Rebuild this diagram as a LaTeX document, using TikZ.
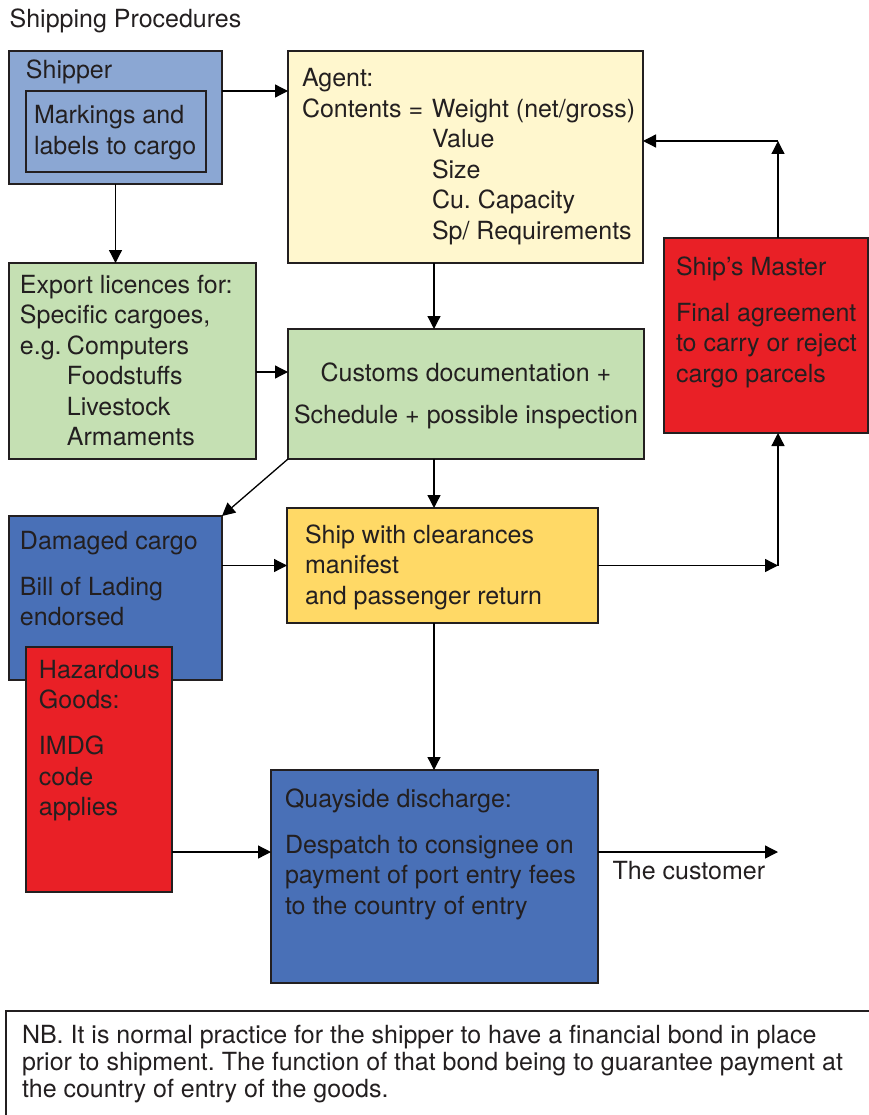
\documentclass[tikz,border=0pt]{standalone}
\usepackage{fontspec}
\setmainfont{TeX Gyre Heros}
\usetikzlibrary{arrows.meta}
\frenchspacing
\definecolor{fill_pale}{RGB}{139,167,211}
\definecolor{fill_cream}{RGB}{255,247,206}
\definecolor{fill_green}{RGB}{197,224,179}
\definecolor{fill_red}{RGB}{233,32,38}
\definecolor{fill_blue}{RGB}{73,112,183}
\definecolor{fill_yell}{RGB}{255,217,102}
\definecolor{edge_dark}{RGB}{35,31,32}
% #1 width, #2 height, #3 left pad, #4 first baseline, #5 lines
\newcommand\panel[5]{\begin{minipage}[t][#2pt][t]{#1pt}\raggedright\leftskip=#3pt\rule{0pt}{#4pt}#5\end{minipage}}

\begin{document}
\begin{tikzpicture}[x=1pt,y=-1pt,->,line width=1.3pt,>={Triangle[length=13pt,width=13pt]},
    font=\fontsize{25}{30.5}\selectfont,text=edge_dark]
    \tikzstyle{label}=[anchor=base west,inner sep=0pt]
    \tikzstyle{box}=[-,draw=edge_dark,line width=2pt,anchor=north west,inner sep=0pt,outer sep=0pt]
    \tikzstyle{boxpale}=[style=box,fill=fill_pale]
    \tikzstyle{boxcream}=[style=box,fill=fill_cream]
    \tikzstyle{boxgreen}=[style=box,fill=fill_green]
    \tikzstyle{boxred}=[style=box,fill=fill_red]
    \tikzstyle{boxblue}=[style=box,fill=fill_blue]
    \tikzstyle{boxyell}=[style=box,fill=fill_yell]

    \useasboundingbox (0,0) rectangle (869,1115);
    \clip (0,0) rectangle (869,1115);

    \node[label] (title) at (9,28) {Shipping Procedures};

    \node[boxpale]  (shipper)  at (9,51)    {\panel{213}{133}{17}{28}{Shipper}};
    \node[boxpale]  (markings) at (26,91)   {\panel{180}{81}{8}{33}{Markings and\\labels to cargo}};
    \node[boxcream] (agent)    at (288,51)  {\panel{355}{212}{14}{36}{Agent:\\
        \makebox[130pt][l]{Contents =}Weight (net/gross)\\\hspace*{130pt}Value\\\hspace*{130pt}Size\\
        \hspace*{130pt}Cu. Capacity\\\hspace*{130pt}Sp/ Requirements}};
    \node[boxgreen] (export)   at (9,263)   {\panel{247}{196}{11}{30}{Export licences for:\\Specific cargoes,\\
        \makebox[47pt][l]{e.g.}Computers\\\hspace*{47pt}Foodstuffs\\\hspace*{47pt}Livestock\\\hspace*{47pt}Armaments}};
    \node[boxgreen] (customs)  at (288,329) {\panel{356}{130}{0}{52}{\centering Customs documentation +\\[11.5pt]
        Schedule + possible inspection}};
    \node[boxred]   (master)   at (664,238) {\panel{204}{195}{12}{37}{Ship’s Master\\[15.5pt]Final agreement\\
        to carry or reject\\cargo parcels}};
    \node[boxblue]  (damaged)  at (9,516)   {\panel{213}{164}{11}{33}{Damaged cargo\\[15.5pt]Bill of Lading\\endorsed}};
    \node[boxred]   (hazard)   at (26,647)  {\panel{146}{245}{13}{31}{Hazardous\\Goods:\\[15.5pt]IMDG\\code\\applies}};
    \node[boxyell]  (ship)     at (287,508) {\panel{311}{115}{18}{35}{Ship with clearances\\manifest\\and passenger return}};
    \node[boxblue]  (quay)     at (271,770) {\panel{327}{213}{14}{37}{Quayside discharge:\\[15.5pt]
        Despatch to consignee on\\payment of port entry fees\\to the country of entry}};
    \node[box]      (nb)       at (6,1011)  {\panel{900}{200}{16}{32}{\fontsize{25}{27}\selectfont
        NB. It is normal practice for the shipper to have a financial bond in place\\
        prior to shipment. The function of that bond being to guarantee payment at\\
        the country of entry of the goods.}};

    % rails for the connectors
    \coordinate (spine) at (434,0);
    \coordinate (back)  at (778,141);
    \coordinate (out)   at (778,852);

    \draw (markings.north -| shipper.east) -- (markings.north -| agent.west);
    \draw (shipper.south) -- (shipper.south |- export.north);
    \draw (agent.south -| spine) -- (customs.north -| spine);
    \draw ([yshift=-11pt]export.east) -- ([yshift=-11pt]export.east -| customs.west);
    \draw (customs.south west) -- (damaged.north east);
    \draw (customs.south -| spine) -- (ship.north -| spine);
    \draw (ship.west -| damaged.east) -- (ship.west);
    \draw (ship.east) -- (ship.east -| back);
    \draw (ship.east -| back) -- (master.south -| back);
    \draw (master.north -| back) -- (back);
    \draw (back) -- (back -| agent.east);
    \draw (ship.south -| spine) -- (quay.north -| spine);
    \draw (out -| hazard.east) -- (out -| quay.west);
    \draw (out -| quay.east) -- (out);
    \node[label] (customer) at (612,879) {The customer};
\end{tikzpicture}
\end{document}
